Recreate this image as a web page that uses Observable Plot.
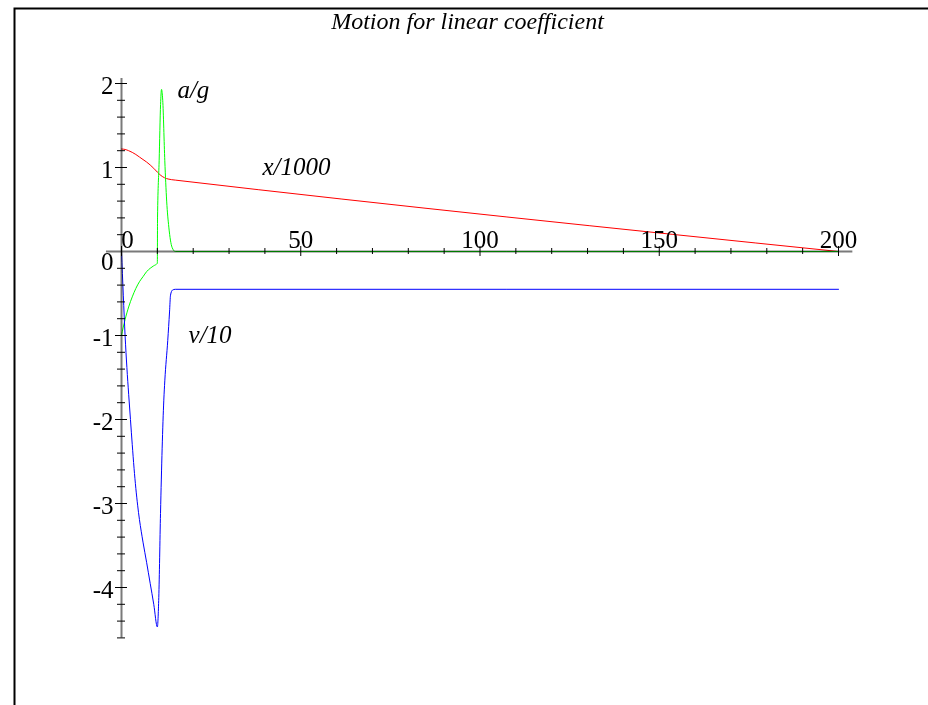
<!DOCTYPE html>
<html>
<head>
<meta charset="utf-8">
<script src="https://cdn.jsdelivr.net/npm/d3@7"></script>
<script src="https://cdn.jsdelivr.net/npm/@observablehq/plot@0.6"></script>
<style>
  html, body { margin: 0; padding: 0; background: #fff; }
  #chart svg { display: block; }
</style>
</head>
<body>
<div id="chart"></div>
<script>
// ---- data ----
const titleText = "Motion for linear coefficient";

// x/1000 (red)
const posT = [0, 1, 2, 3, 4, 5, 6, 7, 8, 9, 10, 11, 12, 13, 14, 15, 200];
const posV = [1.22, 1.215, 1.20, 1.18, 1.155, 1.125, 1.095, 1.065, 1.03, 0.99, 0.945, 0.905, 0.878, 0.863, 0.855, 0.85, 0.0];

// v/10 (blue)
const velT = [0, 0.5, 1, 1.5, 2, 2.5, 3, 3.5, 4, 4.5, 5, 5.5, 6, 7, 8, 9, 10, 10.4, 10.88, 11.8, 12.08, 12.9, 13.4, 13.67, 14.2, 15, 200];
const velV = [0, -0.52, -1.0, -1.38, -1.7, -2.0, -2.3, -2.58, -2.82, -3.02, -3.19, -3.33, -3.46, -3.7, -3.95, -4.2, -4.47, -4.12, -3.12, -1.77, -1.54, -1.06, -0.72, -0.52, -0.46, -0.45, -0.45];

// a/g (green)
const accT = [0, 0.5, 1, 2, 3, 4, 5, 6, 7, 8, 9, 10, 10.05, 10.5, 10.9, 11.16, 11.5, 12.08, 12.6, 13.2, 14.1, 15, 200];
const accV = [-1, -0.9, -0.81, -0.66, -0.54, -0.44, -0.36, -0.3, -0.24, -0.2, -0.17, -0.14, 0.4, 1.08, 1.75, 1.93, 1.8, 1.08, 0.6, 0.29, 0.05, 0.0, 0.0];

// axes ticks and labels
const xMajor = [0, 50, 100, 150, 200];
const xMajorLabels = ["0", "50", "100", "150", "200"];
const xMinor = d3.range(10, 200, 10).filter(v => v % 50 !== 0);
const yMajor = [-4, -3, -2, -1, 1, 2];
const yMajorLabels = ["-4", "-3", "-2", "-1", "1", "2"];
const yMinor = d3.range(-4.6, 2.01, 0.2).map(v => Math.round(v * 10) / 10).filter(v => Math.abs(v - Math.round(v)) > 1e-9);

// curve labels
const curveLabels = [
  {name: "a/g", t: 15.6, v: 1.833},
  {name: "x/1000", t: 39.3, v: 0.905},
  {name: "v/10", t: 18.7, v: -1.095}
];

const pos = posT.map((t, i) => ({t, v: posV[i]}));
const vel = velT.map((t, i) => ({t, v: velV[i]}));
const acc = accT.map((t, i) => ({t, v: accV[i]}));

const font = "'Liberation Serif', 'Times New Roman', serif";
const fs = 25;
const axisGray = "#7a7a7a";

const chart = Plot.plot({
  width: 928,
  height: 705,
  margin: 0,
  style: {fontFamily: font, background: "#fff"},
  x: {domain: [0, 200], range: [121, 838], axis: null},
  y: {domain: [-4.6, 2.08], range: [637.4, 76.28], axis: null},
  marks: [
    Plot.frame({insetTop: 8, insetLeft: 14, insetRight: -10, insetBottom: -10, stroke: "black", strokeWidth: 2}),
    // curves
    Plot.line(pos, {x: "t", y: "v", stroke: "#ff0000", strokeWidth: 1, curve: "monotone-x"}),
    Plot.line(acc, {x: "t", y: "v", stroke: "#00ff00", strokeWidth: 1, curve: "monotone-x"}),
    Plot.line(vel, {x: "t", y: "v", stroke: "#0000ff", strokeWidth: 1, curve: "monotone-x"}),
    // ticks
    Plot.ruleX(xMajor, {x: d => d, y1: 0, y2: 0, insetTop: -5, insetBottom: -5, stroke: "black", strokeWidth: 1}),
    Plot.ruleX(xMinor, {x: d => d, y1: 0, y2: 0, insetTop: -3, insetBottom: -3, stroke: "black", strokeWidth: 1}),
    Plot.ruleY(yMajor, {y: d => d, x1: 0, x2: 0, insetLeft: -6, insetRight: -6, stroke: "black", strokeWidth: 1}),
    Plot.ruleY(yMinor, {y: d => d, x1: 0, x2: 0, insetLeft: -4, insetRight: -4, stroke: "black", strokeWidth: 1}),
    // axis lines
    Plot.ruleY([0], {x1: -4.2, x2: 204, stroke: axisGray, strokeWidth: 2, mixBlendMode: "multiply"}),
    Plot.ruleX([0], {y1: -4.6, y2: 2.06, stroke: axisGray, strokeWidth: 2, mixBlendMode: "multiply"}),
    // tick labels
    Plot.text(xMajor.slice(1), {x: d => d, y: 0, text: (d, i) => xMajorLabels[i + 1], textAnchor: "middle", lineAnchor: "bottom", dy: -4, fontSize: fs, fill: "black"}),
    Plot.text([xMajor[0]], {x: d => d, y: 0, text: () => xMajorLabels[0], textAnchor: "middle", lineAnchor: "bottom", dy: -4, dx: 6, fontSize: fs, fill: "black"}),
    Plot.text(yMajor, {x: 0, y: d => d, text: (d, i) => yMajorLabels[i], textAnchor: "end", lineAnchor: "middle", dx: -8, dy: 2, fontSize: fs, fill: "black"}),
    Plot.text([0], {x: 0, y: d => d, text: () => "0", textAnchor: "end", lineAnchor: "middle", dx: -8, dy: 10, fontSize: fs, fill: "black"}),
    // curve labels
    Plot.text(curveLabels, {x: "t", y: "v", text: "name", textAnchor: "start", lineAnchor: "bottom", fontSize: fs, fontStyle: "italic", fill: "black"}),
    // title
    Plot.text([titleText], {frameAnchor: "top", dx: 3, dy: 28, text: d => d, lineAnchor: "bottom", fontSize: 24, fontStyle: "italic", fill: "black"})
  ]
});
document.getElementById("chart").appendChild(chart);
</script>
</body>
</html>
